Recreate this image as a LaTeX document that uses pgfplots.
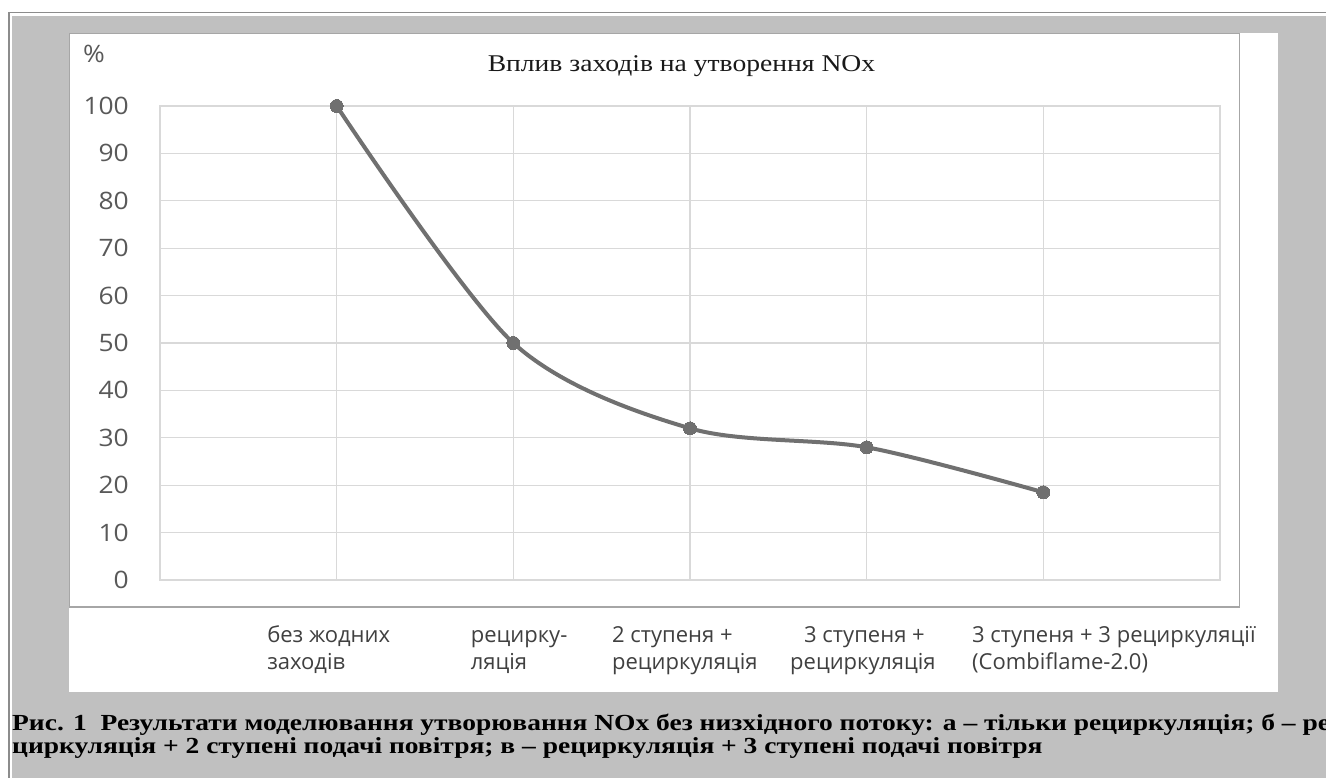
\documentclass[border=0pt]{standalone}
\usepackage{fontspec}
\usepackage{pgfplots}
\pgfplotsset{compat=1.18}
\setmainfont{Liberation Serif}
\newfontfamily\ticksans[FakeStretch=1.1]{Open Sans}
\newfontfamily\labsans{Open Sans}
\newfontfamily\titleserif[FakeStretch=1.15]{Liberation Serif}
\newfontfamily\capserif[FakeStretch=1.195]{Liberation Serif}

\definecolor{panel}{HTML}{C0C0C0}
\definecolor{frameline}{HTML}{8C8C8C}
\definecolor{boxline}{HTML}{A6A6A6}
\definecolor{gridc}{HTML}{D9D9D9}
\definecolor{tickc}{HTML}{595959}
\definecolor{labc}{HTML}{404040}
\definecolor{seriesc}{HTML}{707070}

\begin{document}
\begin{tikzpicture}[x=1pt,y=1pt]
\useasboundingbox (0,0) rectangle (1326,778);
\clip (0,0) rectangle (1326,778);
\fill[white] (0,0) rectangle (1326,778);
% table cell frame and grey panel
\draw[frameline, line width=1.5pt] (8.75,-20) -- (8.75,765.25) -- (1340,765.25);
\fill[panel] (12,-20) rectangle (1340,762);
% chart area
\fill[white] (69,86) rectangle (1278,745);
\draw[boxline, line width=1.2pt] (69.6,171) rectangle (1239.4,744.4);

\node[anchor=base, font=\titleserif\fontsize{24}{28}\selectfont, text=black!90] at (681.5,706) {Вплив заходів на утворення NOx};
\node[anchor=west, inner sep=0pt, font=\ticksans\fontsize{24}{28}\selectfont, text=tickc] at (83,724) {\%};

\begin{axis}[
  at={(160pt,198pt)}, anchor=south west,
  width=1060pt, height=474pt, scale only axis,
  xmin=0, xmax=6, ymin=0, ymax=100,
  clip=false,
  axis line style={gridc, line width=1.3pt},
  major tick length=0pt,
  xtick={1,2,3,4,5}, xticklabels={},
  ytick={0,10,...,100},
  xmajorgrids, ymajorgrids,
  major grid style={gridc, line width=1.3pt},
  /pgf/number format/assume math mode=true,
  yticklabel style={font=\ticksans\fontsize{24}{28}\selectfont, text=tickc, anchor=east, inner sep=0pt, xshift=-31pt},
  extra x ticks={0.606,1.758,2.558,3.566,4.596},
  extra x tick labels={
    {\strut без жодних\\заходів},
    {\strut рецирку-\\ляція},
    {\strut 2 ступеня +\\рециркуляція},
    {\strut\hspace*{14pt}3 ступеня +\\рециркуляція},
    {\strut 3 ступеня + 3 рециркуляції\\(Combiflame-2.0)}},
  extra x tick style={grid=none, major tick length=0pt,
    xticklabel style={anchor=north west, align=left, inner sep=0pt, yshift=-43pt,
      font=\labsans\fontsize{22}{27}\selectfont, text=labc}},
]
\addplot[seriesc, line width=4pt, smooth, mark=*, mark size=6.5pt,
  mark options={fill=seriesc, draw=seriesc, line width=0pt}]
  coordinates {(1,100) (2,50) (3,32) (4,28) (5,18.5)};
\end{axis}

% figure caption
\node[anchor=base west, inner sep=0pt, font=\capserif\bfseries\fontsize{23}{26}\selectfont] at (12,47)
  {Рис. 1\ \ Результати моделювання утворювання NOx без низхідного потоку: а – тільки рециркуляція; б – ре};
\node[anchor=base west, inner sep=0pt, font=\capserif\bfseries\fontsize{23}{26}\selectfont] at (12,24)
  {циркуляція + 2 ступені подачі повітря; в – рециркуляція + 3 ступені подачі повітря};
\end{tikzpicture}
\end{document}
